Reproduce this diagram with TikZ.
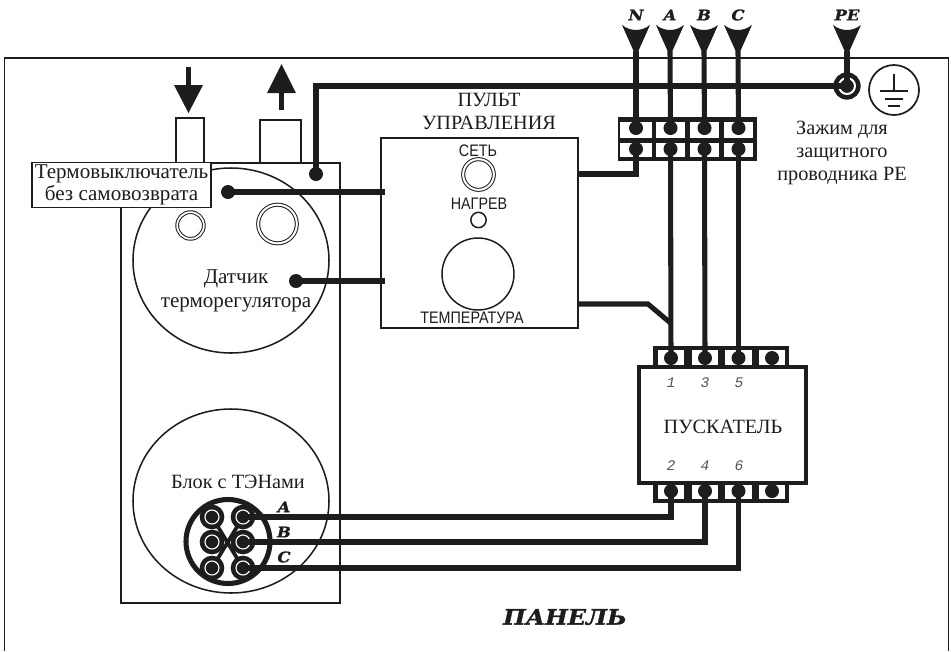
\documentclass[tikz,border=0pt]{standalone}
\usepackage{graphicx}
\usepackage{fontspec}
\setmainfont{Liberation Serif}
\setsansfont{Liberation Sans}
\setmonofont{Liberation Mono}
\newfontfamily\slabfont[FakeBold=1.3,FakeStretch=1.12]{DejaVu Serif}
\definecolor{ink}{HTML}{1E1C1C}
\newcommand{\cond}[1]{\scalebox{.86}[1]{#1}}
\tikzset{
  thin line/.style={draw=ink,line width=1.15pt},
  wire/.style={draw=ink,line width=3.8pt},
  dot/.style={circle,fill=ink,inner sep=0pt,minimum size=10.5pt},
  cell/.style={rectangle,fill=white,inner sep=0pt},
  lbl/.style={font=\fontsize{15.2pt}{16.8pt}\selectfont,text=ink,inner sep=0pt,align=center},
  widelbl/.style={lbl,font=\fontsize{15.8pt}{16.8pt}\selectfont},
  sanslbl/.style={font=\sffamily\fontsize{12.5pt}{14pt}\selectfont,text=ink,inner sep=0pt},
  phase/.style={font=\slabfont\bfseries\itshape\fontsize{11pt}{15pt}\selectfont,text=ink,inner sep=0pt},
  num/.style={font=\ttfamily\itshape\fontsize{11pt}{12pt}\selectfont,text=ink!75,inner sep=0pt},
  ring/.style={circle,draw=ink,line width=1.1pt,inner sep=0pt,fill=white},
  dring/.style={ring,double=white,line width=.75pt},
  hterm/.style={circle,fill=ink,inner sep=0pt,minimum size=18.5pt},
  hgap/.style={circle,draw=white,line width=.85pt,inner sep=0pt,minimum size=10.5pt},
}
\newcommand{\funnel}[1]{%
  \fill[ink] ([xshift=-10.5pt,yshift=19.5pt]#1) .. controls ([xshift=-4pt,yshift=14.5pt]#1) and ([xshift=4pt,yshift=14.5pt]#1) .. ([xshift=10.5pt,yshift=19.5pt]#1)
    .. controls ([xshift=6pt,yshift=10pt]#1) .. ([xshift=1.8pt,yshift=0pt]#1) -- ([xshift=-1.8pt,yshift=0pt]#1)
    .. controls ([xshift=-6pt,yshift=10pt]#1) .. cycle;}
\begin{document}
\begin{tikzpicture}[x=0.75pt,y=-0.75pt]
\useasboundingbox (0,0) rectangle (951,651);
% panel
\draw[thin line,line cap=butt] (4.5,651) -- (4.5,58) -- (948.5,58) -- (948.5,651);
% nozzles
\node[thin line,minimum width=21pt,minimum height=33.7pt,inner sep=0pt] (nzA) at (190,140.5) {};
\node[thin line,minimum width=30.5pt,minimum height=32.2pt,inner sep=0pt] (nzB) at (280.5,141.5) {};
% water arrows
\fill[ink] (186,67) rectangle (191,85);
\fill[ink] (174,85) -- (203,85) -- (188.5,113) -- cycle;
\fill[ink] (279,110) rectangle (284,92);
\fill[ink] (267,93) -- (296,93) -- (281.5,64) -- cycle;
% boiler body and circles
\node[thin line,fill=white,minimum width=164pt,minimum height=330pt,inner sep=0pt] (body) at (230.5,383) {};
\draw[thin line] (231,260.5) ellipse (98 and 92.5);
\draw[thin line] (231,501) ellipse (98 and 92);
\node[dring,minimum size=20pt,double distance=1.3pt] (knobA) at (190.5,225.5) {};
\node[dring,minimum size=29pt,double distance=1.5pt] (knobB) at (277.5,224) {};
% switch label
\node[thin line,fill=white,minimum width=134.5pt,minimum height=33.5pt,inner sep=0pt,widelbl] (sw) at (121.5,185) {Термовыключатель\\без самовозврата};
\node[lbl,font=\fontsize{15.8pt}{18pt}\selectfont] (sensor) at (236,291) {Датчик\\терморегулятора};
\node[lbl] (heat) at (238,481.5) {Блок с ТЭНами};
% control panel
\node[thin line,fill=white,minimum width=147.5pt,minimum height=142.5pt,inner sep=0pt] (ctl) at (479.5,233) {};
\node[lbl] (ctlt) at (489,111.5) {ПУЛЬТ\\УПРАВЛЕНИЯ};
\node[sanslbl] (net) at (478,150.5) {\cond{СЕТЬ}};
\node[dring,minimum size=23pt,double distance=1.5pt] (netk) at (478.5,174.5) {};
\node[sanslbl] (hot) at (479,204) {\cond{НАГРЕВ}};
\node[ring,minimum size=11.5pt] (hotk) at (478.5,220) {};
\node[ring,minimum size=54pt] (temp) at (478,274) {};
\node[sanslbl] (templ) at (472,317.5) {\cond{ТЕМПЕРАТУРА}};
% terminal block
\node[fill=ink,inner sep=0pt,minimum width=104.5pt,minimum height=33pt] (tb) at (687.5,139) {};
\foreach \n/\x/\w in {n/636/24,a/670.5/22,b/704.5/22,c/738.5/22}{
  \node[cell,minimum width=\w pt,minimum height=12pt] at (\x,130) {};
  \node[cell,minimum width=\w pt,minimum height=10.5pt] at (\x,150) {};
  \node[dot] (\n1) at (\x,128) {};
  \node[dot] (\n2) at (\x,149) {};
}
% starter
\node[fill=ink,inner sep=0pt,minimum width=102pt,minimum height=16pt] (stT) at (721,356.5) {};
\node[fill=ink,inner sep=0pt,minimum width=102pt,minimum height=15pt] (stB) at (721,493) {};
\foreach \x in {671,705,738.5,772}{
  \node[cell,minimum width=20pt,minimum height=13pt] at (\x,358.5) {};
  \node[cell,minimum width=20pt,minimum height=12pt] at (\x,491) {};
}
\node[draw=ink,fill=white,line width=3pt,minimum width=125pt,minimum height=87pt,inner sep=0pt] (st) at (722.5,425) {};
\foreach \n/\x in {p/671,q/705,r/738.5,s/772}{
  \node[dot] (\n1) at (\x,358) {};
  \node[dot] (\n2) at (\x,491) {};
}
\node[lbl] (stl) at (723,427) {ПУСКАТЕЛЬ};
\foreach \t/\x/\y in {1/671/383,3/705/383,5/739/383,2/671/466,4/705/466,6/739/466}
  \node[num] (pin\t) at (\x,\y) {\t};
% PE clamp
\node[circle,fill=ink,inner sep=0pt,minimum size=20.5pt] (pe) at (847,86) {};
\node[circle,draw=white,line width=1.5pt,inner sep=0pt,minimum size=12pt] (pei) at (847,86) {};
% earth symbol
\node[circle,draw=ink,line width=1.3pt,inner sep=0pt,minimum size=37.5pt] (gnd) at (894,90) {};
\draw[ink,line width=1.4pt] (894,74) -- (894,91);
\draw[ink,line width=1.4pt] (880,91) -- (908,91);
\draw[ink,line width=1.4pt] (885,99) -- (903,99);
\draw[ink,line width=1.4pt] (888,106) -- (900,106);
\node[lbl,font=\fontsize{15.2pt}{17.5pt}\selectfont] (pel) at (842,153) {Зажим для\\защитного\\проводника РЕ};
% inputs
\foreach \n/\x/\t in {nn/636/N,na/670/A,nb/704/B,nc/738/C,npe/847/PE}{
  \coordinate (\n) at (\x,51);
  \funnel{\n}
  \node[phase] (\n t) at (\x,15) {\t};
}
% sensor dots
\node[dot] (sA) at (316,174) {};
\node[dot] (sB) at (228,192) {};
\node[dot] (sC) at (296,281) {};
\coordinate (cA) at (385,192);
\coordinate (cB) at (385,281);
\coordinate (cC) at (578,174);
\coordinate (cD) at (578,304);
\coordinate (bend) at (648,304);
\coordinate (join) at (670.5,323);
% heater block
\node[circle,draw=ink,fill=white,line width=3.8pt,inner sep=0pt,minimum size=63pt] (hb) at (228,541.5) {};
\draw[ink,line width=2.8pt] (212,517) -- (243,568) (243,517) -- (212,568);
\foreach \n/\x/\y in {ha/243/517,hb2/243/542,hc/243/568,hd/212/517,he/212/542,hf/212/568}{
  \node[hterm] (\n) at (\x,\y) {};
  \node[hgap] at (\x,\y) {};
}
\node[phase] (la) at (284,507) {A};
\node[phase] (lb) at (284,532) {B};
\node[phase] (lc) at (284,557) {C};
% wires
\draw[wire] (nn) -- (n1.center);
\draw[wire] (na) -- (a1.center);
\draw[wire] (nb) -- (b1.center);
\draw[wire] (nc) -- (c1.center);
\draw[wire] (npe) -- (pe.center);
\draw[wire] (a2.center) -- (p1.center);
\draw[wire] (b2.center) -- (q1.center);
\draw[wire] (c2.center) -- (r1.center);
\draw[wire] (pe.center) -- (sA.center |- pe.center) -- (sA.center);
\draw[wire] (sB.center) -- (cA);
\draw[wire] (sC.center) -- (cB);
\draw[wire] (cC) -| (n2.center);
\draw[wire] (cD) -- (bend) -- (join);
\draw[wire] (ha.center) -- (p2.center |- ha.center) -- (p2.center);
\draw[wire] (hb2.center) -- (q2.center |- hb2.center) -- (q2.center);
\draw[wire] (hc.center) -- (r2.center |- hc.center) -- (r2.center);
\node[circle,fill=ink,inner sep=0pt,minimum size=8pt] at (pe) {};
\node[font=\slabfont\bfseries\itshape\fontsize{16pt}{20pt}\selectfont,text=ink,inner sep=0pt] (panel) at (565,617) {ПАНЕЛЬ};
\end{tikzpicture}
\end{document}
